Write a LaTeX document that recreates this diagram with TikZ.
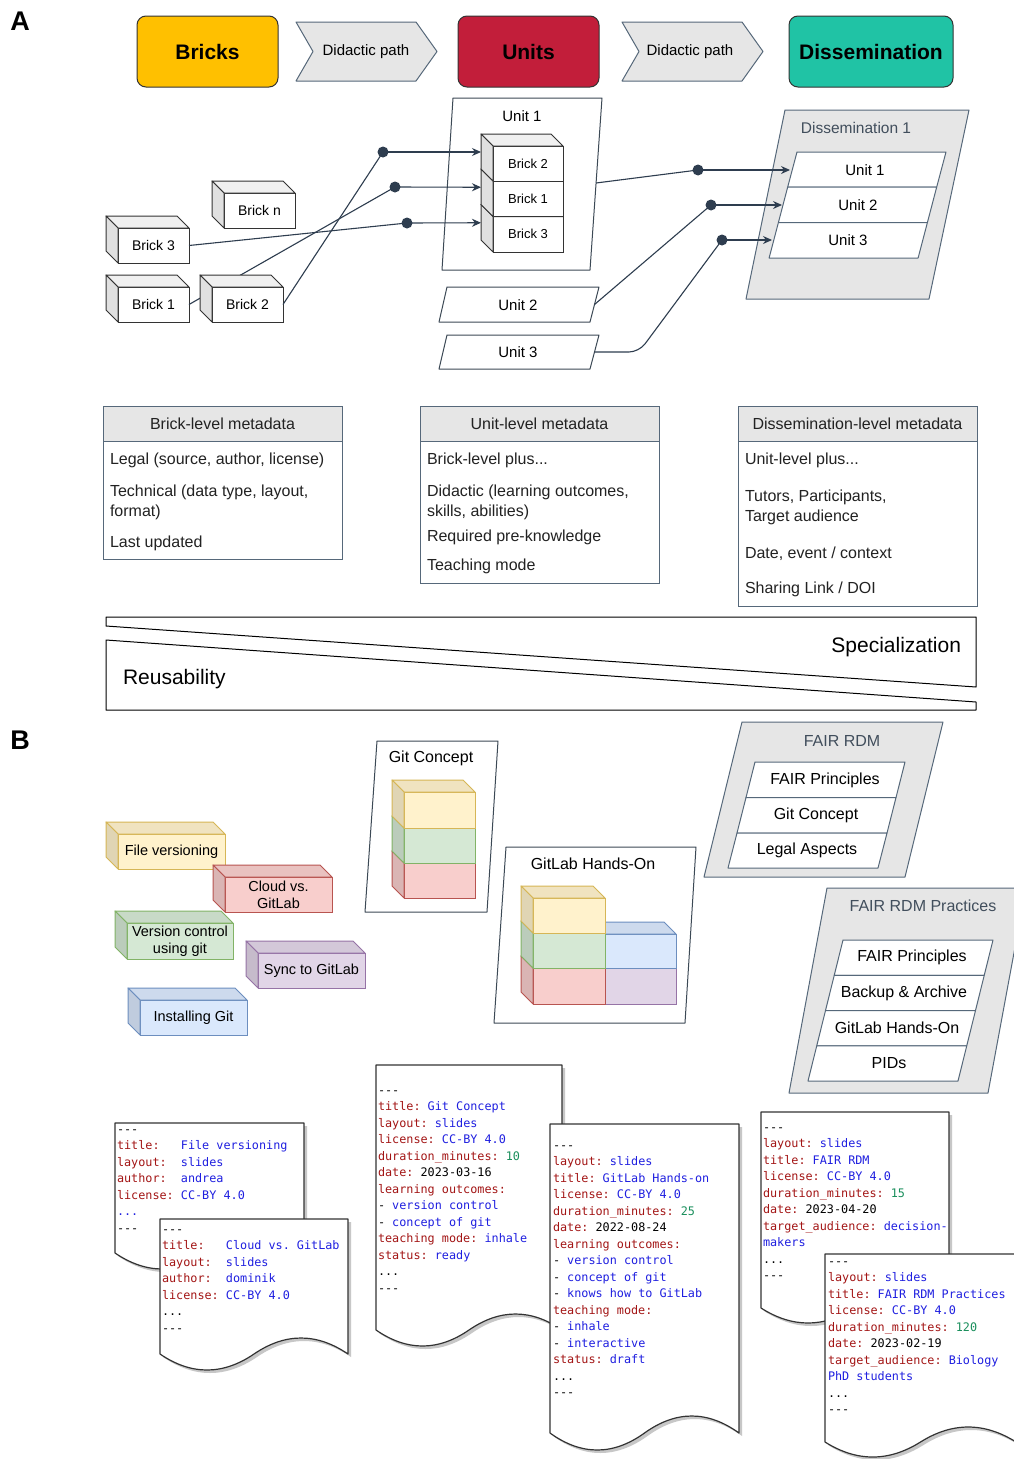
\documentclass[tikz,border=0pt]{standalone}
\usepackage{fontspec}
\setmainfont{Liberation Sans}
\newfontfamily\mono{DejaVu Sans Mono}
\usetikzlibrary{arrows.meta,calc}
\definecolor{brickc}{HTML}{FFC000}
\definecolor{unitc}{HTML}{C21E3A}
\definecolor{dissc}{HTML}{20C3A5}
\definecolor{chevf}{HTML}{E6E6E6}
\definecolor{slate}{HTML}{56687A}
\definecolor{arrc}{HTML}{2E3D4F}
\definecolor{hdrf}{HTML}{E6E6E6}
\definecolor{txtg}{HTML}{222222}
\definecolor{Gfill}{HTML}{FFFFFF}\definecolor{Gstroke}{HTML}{333333}
\definecolor{Yfill}{HTML}{FFF2CC}\definecolor{Ystroke}{HTML}{D6B656}
\definecolor{Efill}{HTML}{D5E8D4}\definecolor{Estroke}{HTML}{82B366}
\definecolor{Rfill}{HTML}{F8CECC}\definecolor{Rstroke}{HTML}{B85450}
\definecolor{Bfill}{HTML}{DAE8FC}\definecolor{Bstroke}{HTML}{6C8EBF}
\definecolor{Pfill}{HTML}{E1D5E7}\definecolor{Pstroke}{HTML}{9673A6}
\definecolor{keyc}{HTML}{A31515}
\definecolor{valc}{HTML}{1F1FE0}
\definecolor{numc}{HTML}{1A8F5C}
\newcommand\fs[1]{\fontsize{#1}{#1}\selectfont}
\newcommand\dk[1]{\textcolor{keyc}{#1}}
\newcommand\dv[1]{\textcolor{valc}{#1}}
\newcommand\dn[1]{\textcolor{numc}{#1}}
\newcommand\dsh{{-}{-}{-}}
% cube: #1 colour prefix, #2 name, #3 x0, #4 y0, #5 x1, #6 y1, #7 font, #8 text
\newcommand\mkcube[8]{%
  \node[cubefront, fill=#1fill, draw=#1stroke, minimum width={#5pt-#3pt}, minimum height={#6pt-#4pt}, font=#7] (#2) at ({(#3+#5)/2},{(#4+#6)/2}) {#8};
  \path[fill=#1fill!94!black, draw=#1stroke, line width=1pt, line join=round] (#2.north west) -- ++(-12,-12) -- ($(#2.north east)+(-12,-12)$) -- (#2.north east) -- cycle;
  \path[fill=#1fill!88!black, draw=#1stroke, line width=1pt, line join=round] (#2.north west) -- ++(-12,-12) -- ($(#2.south west)+(-12,-12)$) -- (#2.south west) -- cycle;
}
% parallelogram: #1 style, #2 xtl, #3 ytop, #4 xtr, #5 ybot, #6 skew
\newcommand\para[6]{\path[#1] (#2,#3) -- (#4,#3) -- ({#4-#6},#5) -- ({#2-#6},#5) -- cycle;}
% document path: #1 style, #2 x0, #3 top, #4 x1, #5 yb, #6 amplitude
\newcommand\docpath[6]{%
  \pgfmathsetmacro\dw{#4-#2}%
  \path[#1] (#2,#3) -- (#4,#3) -- (#4,#5)
    .. controls ({#4-\dw/6},{#5-4*#6/3}) and ({#4-\dw/3},{#5-4*#6/3}) .. ({(#2+#4)/2},#5)
    .. controls ({#2+\dw/3},{#5+4*#6/3}) and ({#2+\dw/6},{#5+4*#6/3}) .. (#2,#5) -- cycle;}
\newcommand\mkdoc[5]{%
  \docpath{fill=black!22, shift={(3,3)}}{#1}{#2}{#3}{#4}{#5}%
  \docpath{fill=white, draw=black!80, line width=1.2pt, line join=round}{#1}{#2}{#3}{#4}{#5}}
\tikzset{
  every node/.style={outer sep=0pt},
  cubefront/.style={rectangle, line width=1pt, inner sep=0pt, align=center, text=black},
  conn/.style={draw=arrc, line width=1.1pt},
  arr/.style={-{Stealth[length=9pt,width=8pt]}},
  dotn/.style={circle, fill=arrc, inner sep=0pt, minimum size=11pt},
  lbl/.style={inner sep=0pt, text=black},
  mitem/.style={anchor=west, inner sep=0pt, font=\fs{16}, text=txtg},
  hdr/.style={inner sep=0pt, font=\fs{16}, text=txtg},
  doctext/.style={anchor=north west, align=left, inner sep=0pt, font=\mono\fontsize{11.8}{16.5}\selectfont\frenchspacing},
  topbox/.style={rectangle, rounded corners=9pt, draw=black!80, line width=1pt, minimum width=141pt, minimum height=71pt, font=\bfseries\fs{21}},
  chev/.style={fill=chevf, draw=slate, line width=1pt, line join=round},
  cont/.style={fill=white, draw=slate!70!black, line width=1pt, line join=round},
  grayc/.style={fill=hdrf, draw=slate, line width=1pt, line join=round},
  rowp/.style={fill=white, draw=slate, line width=1pt, line join=round},
  mbox/.style={draw=slate, line width=1pt},
  wedge/.style={draw=black, line width=1pt, line join=round},
}
\begin{document}
\begin{tikzpicture}[x=1pt,y=-1pt]
\useasboundingbox (0,0) rectangle (1014,1459);
\fill[white] (0,0) rectangle (1014,1459);

% ---------------- Part A: top row
\node[font=\bfseries\fs{27}, inner sep=0pt] (labA) at (20,21) {A};
\node[topbox, fill=brickc] (bricks) at (207.5,51.5) {Bricks};
\path[chev] (296,22) -- (416,22) -- (437,51.5) -- (416,81) -- (296,81) -- (313,51.5) -- cycle;
\node[lbl, font=\fs{15}] (dp1) at (366,51.5) {Didactic path};
\node[topbox, fill=unitc] (units) at (528.5,51.5) {Units};
\path[chev] (622,22) -- (742,22) -- (763,51.5) -- (742,81) -- (622,81) -- (639,51.5) -- cycle;
\node[lbl, font=\fs{15}] (dp2) at (690,51.5) {Didactic path};
\node[topbox, fill=dissc, minimum width=164pt] (diss) at (871,51.5) {Dissemination};

% ---------------- Part A: bricks and units
\node[dotn] (p1) at (383,152) {};
\node[dotn] (p2) at (395,187) {};
\node[dotn] (p3) at (407,223) {};
\mkcube{G}{lbn}{224}{193}{295}{228}{\fs{14}}{Brick n}
\mkcube{G}{lb3}{118}{228}{189}{263}{\fs{14}}{Brick 3}
\mkcube{G}{lb1}{118}{287}{189}{322}{\fs{14}}{Brick 1}
\draw[conn] (lb1.east) -- (p2.center);
\draw[conn] (lb3.east) -- (p3.center);
\mkcube{G}{lb2}{212}{287}{283}{322}{\fs{14}}{Brick 2}
\draw[conn] (lb2.east) -- (p1.center);

\path[cont, fill=none] (453,98) -- (602,98) -- (590,270) -- (442,270) -- cycle;
\node[lbl, font=\fs{15}] (u1) at (522,116) {Unit 1};
\mkcube{G}{sb3}{493}{216.5}{563}{252}{\fs{13}}{Brick 3}
\mkcube{G}{sb1}{493}{181}{563}{216.5}{\fs{13}}{Brick 1}
\mkcube{G}{sb2}{493}{146}{563}{181}{\fs{13}}{Brick 2}
\coordinate (in2) at ($(sb2.west)+(-12,-11.5)$);
\coordinate (in1) at ($(sb1.west)+(-12,-11.5)$);
\coordinate (in3) at ($(sb3.west)+(-12,-11.5)$);
\draw[conn,arr] (p1.center) -- (in2);
\draw[conn,arr] (p2.center) -- (in1);
\draw[conn,arr] (p3.center) -- (in3);

\path[cont] (447,287) -- (599,287) -- (590,322) -- (439,322) -- cycle;
\node[lbl, font=\fs{15}] (u2) at (518,305) {Unit 2};
\path[cont] (447,335) -- (599,335) -- (590,369) -- (439,369) -- cycle;
\node[lbl, font=\fs{15}] (u3) at (518,352) {Unit 3};
\coordinate (u1e) at (596,183);
\coordinate (u2e) at (594.5,304.5);
\coordinate (u3e) at (594.5,352);

% Dissemination 1
\path[grayc] (785,110) -- (969,110) -- (929,299) -- (746,299) -- cycle;
\node[lbl, font=\fs{15.5}, text=slate!75!black] (d1t) at (856,128) {Dissemination 1};
\para{rowp}{797}{152}{946}{187}{9.3}
\node[lbl, font=\fs{15}] (du1) at (865,170) {Unit 1};
\para{rowp}{787.7}{187}{936.7}{222.5}{9.3}
\node[lbl, font=\fs{15}] (du2) at (858,205) {Unit 2};
\para{rowp}{778.4}{222.5}{927.4}{258}{9.3}
\node[lbl, font=\fs{15}] (du3) at (848,240) {Unit 3};
\coordinate (t1) at (790,170);
\coordinate (t2) at (782,205);
\coordinate (t3) at (772,240);
\node[dotn] (q1) at (698,170) {};
\node[dotn] (q2) at (711,205) {};
\node[dotn] (q3) at (722,240) {};
\draw[conn] (u1e) -- (q1.center);
\draw[conn,arr] (q1.center) -- (t1);
\draw[conn] (u2e) -- (q2.center);
\draw[conn,arr] (q2.center) -- (t2);
\draw[conn, rounded corners=10pt] (u3e) -- (639,352) -- (q3.center);
\draw[conn,arr] (q3.center) -- (t3);

% ---------------- metadata boxes
\draw[mbox, fill=hdrf] (103,406) rectangle (342,441);
\draw[mbox] (103,441) rectangle (342,559);
\node[hdr] (m1h) at (222.5,424) {Brick-level metadata};
\node[mitem] (m1a) at (110,460) {Legal (source, author, license)};
\node[mitem] (m1b) at (110,492) {Technical (data type, layout,};
\node[mitem] (m1c) at (110,512) {format)};
\node[mitem] (m1d) at (110,543) {Last updated};

\draw[mbox, fill=hdrf] (420,406) rectangle (659,441);
\draw[mbox] (420,441) rectangle (659,583);
\node[hdr] (m2h) at (539.5,424) {Unit-level metadata};
\node[mitem] (m2a) at (427,460) {Brick-level plus...};
\node[mitem] (m2b) at (427,492) {Didactic (learning outcomes,};
\node[mitem] (m2c) at (427,512) {skills, abilities)};
\node[mitem] (m2d) at (427,537) {Required pre-knowledge};
\node[mitem] (m2e) at (427,566) {Teaching mode};

\draw[mbox, fill=hdrf] (738,406) rectangle (977,441);
\draw[mbox] (738,441) rectangle (977,606);
\node[hdr] (m3h) at (857.5,424) {Dissemination-level metadata};
\node[mitem] (m3a) at (745,460) {Unit-level plus...};
\node[mitem] (m3b) at (745,497) {Tutors, Participants,};
\node[mitem] (m3c) at (745,517) {Target audience};
\node[mitem] (m3d) at (745,554) {Date, event / context};
\node[mitem] (m3e) at (745,589) {Sharing Link / DOI};

% ---------------- wedges
\path[wedge] (106,617) -- (976,617) -- (976,687) -- (106,626) -- cycle;
\path[wedge] (106,640) -- (976,702) -- (976,710) -- (106,710) -- cycle;
\node[lbl, anchor=east, font=\fs{21}] (spec) at (961,647) {Specialization};
\node[lbl, anchor=west, font=\fs{21}] (reus) at (123,679) {Reusability};

% ---------------- Part B
\node[font=\bfseries\fs{27}, inner sep=0pt] (labB) at (20,740) {B};

\mkcube{Y}{fv}{118}{834}{225}{869}{\fs{14.5}}{File versioning}
\mkcube{R}{cg}{225}{877}{332}{912}{\fontsize{14.5}{17}\selectfont}{Cloud vs.\\GitLab}
\mkcube{E}{vc}{127}{923}{233}{959}{\fontsize{14.5}{17}\selectfont}{Version control\\using git}
\mkcube{P}{sg}{258}{953}{365}{988}{\fs{14.5}}{Sync to GitLab}
\mkcube{B}{ig}{140}{1000}{247}{1035}{\fs{14.5}}{Installing Git}

\path[cont] (377,741) -- (498,741) -- (487,912) -- (365,912) -- cycle;
\node[lbl, font=\fs{16}] (gct) at (431,758) {Git Concept};
\mkcube{R}{gc3}{404}{863}{475}{898}{\fs{14}}{}
\mkcube{E}{gc2}{404}{828}{475}{863}{\fs{14}}{}
\mkcube{Y}{gc1}{404}{792}{475}{828}{\fs{14}}{}

\path[cont] (506,847) -- (696,847) -- (685,1023) -- (494,1023) -- cycle;
\node[lbl, font=\fs{16}] (ght) at (593,864) {GitLab Hands-On};
\mkcube{P}{gh5}{605}{968}{676}{1004}{\fs{14}}{}
\mkcube{B}{gh4}{605}{934}{676}{968}{\fs{14}}{}
\mkcube{R}{gh3}{533}{968}{605}{1004}{\fs{14}}{}
\mkcube{E}{gh2}{533}{933}{605}{968}{\fs{14}}{}
\mkcube{Y}{gh1}{533}{898}{605}{933}{\fs{14}}{}

% FAIR RDM
\path[grayc] (742,722) -- (943,722) -- (905,877) -- (704,877) -- cycle;
\node[lbl, font=\fs{16}, text=slate!75!black] (frt) at (842,741) {FAIR RDM};
\para{rowp}{755}{762}{905}{797.5}{9}
\node[lbl, font=\fs{16}] (fr1) at (825,780) {FAIR Principles};
\para{rowp}{746}{797.5}{896}{833}{9}
\node[lbl, font=\fs{16}] (fr2) at (816,815) {Git Concept};
\para{rowp}{737}{833}{887}{868}{9}
\node[lbl, font=\fs{16}] (fr3) at (807,850) {Legal Aspects};

% FAIR RDM Practices
\path[grayc] (827,888) -- (1026,888) -- (988,1093) -- (789,1093) -- cycle;
\node[lbl, font=\fs{16}, text=slate!75!black] (fpt) at (923,906) {FAIR RDM Practices};
\para{rowp}{843}{940}{993}{975.25}{8.75}
\node[lbl, font=\fs{16}] (fp1) at (912,957) {FAIR Principles};
\para{rowp}{834.25}{975.25}{984.25}{1010.5}{8.75}
\node[lbl, font=\fs{16}] (fp2) at (904,993) {Backup \& Archive};
\para{rowp}{825.5}{1010.5}{975.5}{1045.75}{8.75}
\node[lbl, font=\fs{16}] (fp3) at (897,1028) {GitLab Hands-On};
\para{rowp}{816.75}{1045.75}{966.75}{1081}{8.75}
\node[lbl, font=\fs{16}] (fp4) at (889,1063) {PIDs};

% ---------------- documents
\mkdoc{115}{1123}{304}{1253}{16}
\node[doctext] (tx1) at (117,1121.5) {\strut\dsh\\
\dk{title:}~~~\dv{File versioning}\\
\dk{layout:}~~\dv{slides}\\
\dk{author:}~~\dv{andrea}\\
\dk{license:}~\dv{CC-BY 4.0}\\
\dv{...}\\
\dsh};

\mkdoc{160}{1219}{348}{1354}{16}
\node[doctext] (tx2) at (162,1221.5) {\strut\dsh\\
\dk{title:}~~~\dv{Cloud vs. GitLab}\\
\dk{layout:}~~\dv{slides}\\
\dk{author:}~~\dv{dominik}\\
\dk{license:}~\dv{CC-BY 4.0}\\
...\\
\dsh};

\mkdoc{376}{1065}{562}{1330}{16}
\node[doctext] (tx3) at (378,1082.5) {\strut\dsh\\
\dk{title:} \dv{Git Concept}\\
\dk{layout:} \dv{slides}\\
\dk{license:} \dv{CC-BY 4.0}\\
\dk{duration\_minutes:} \dn{10}\\
\dk{date:} 2023-03-16\\
\dk{learning outcomes:}\\
- \dv{version control}\\
- \dv{concept of git}\\
\dk{teaching mode:} \dv{inhale}\\
\dk{status:} \dv{ready}\\
...\\
\dsh};

\mkdoc{550}{1124}{739}{1433}{17}
\node[doctext] (tx4) at (553,1137.5) {\strut\dsh\\
\dk{layout:} \dv{slides}\\
\dk{title:} \dv{GitLab Hands-on}\\
\dk{license:} \dv{CC-BY 4.0}\\
\dk{duration\_minutes:} \dn{25}\\
\dk{date:} 2022-08-24\\
\dk{learning outcomes:}\\
- \dv{version control}\\
- \dv{concept of git}\\
- \dv{knows how to GitLab}\\
\dk{teaching mode:}\\
- \dv{inhale}\\
- \dv{interactive}\\
\dk{status:} \dv{draft}\\
...\\
\dsh};

\mkdoc{761}{1112}{949}{1308}{15}
\node[doctext] (tx5) at (763,1119.5) {\strut\dsh\\
\dk{layout:} \dv{slides}\\
\dk{title:} \dv{FAIR RDM}\\
\dk{license:} \dv{CC-BY 4.0}\\
\dk{duration\_minutes:} \dn{15}\\
\dk{date:} 2023-04-20\\
\dk{target\_audience:} \dv{decision-}\\
\dv{makers}\\
...\\
\dsh};

\mkdoc{825}{1254}{1016}{1442}{15}
\node[doctext] (tx6) at (828,1253.5) {\strut\dsh\\
\dk{layout:} \dv{slides}\\
\dk{title:} \dv{FAIR RDM Practices}\\
\dk{license:} \dv{CC-BY 4.0}\\
\dk{duration\_minutes:} \dn{120}\\
\dk{date:} 2023-02-19\\
\dk{target\_audience:} \dv{Biology}\\
\dv{PhD students}\\
...\\
\dsh};
\end{tikzpicture}
\end{document}
